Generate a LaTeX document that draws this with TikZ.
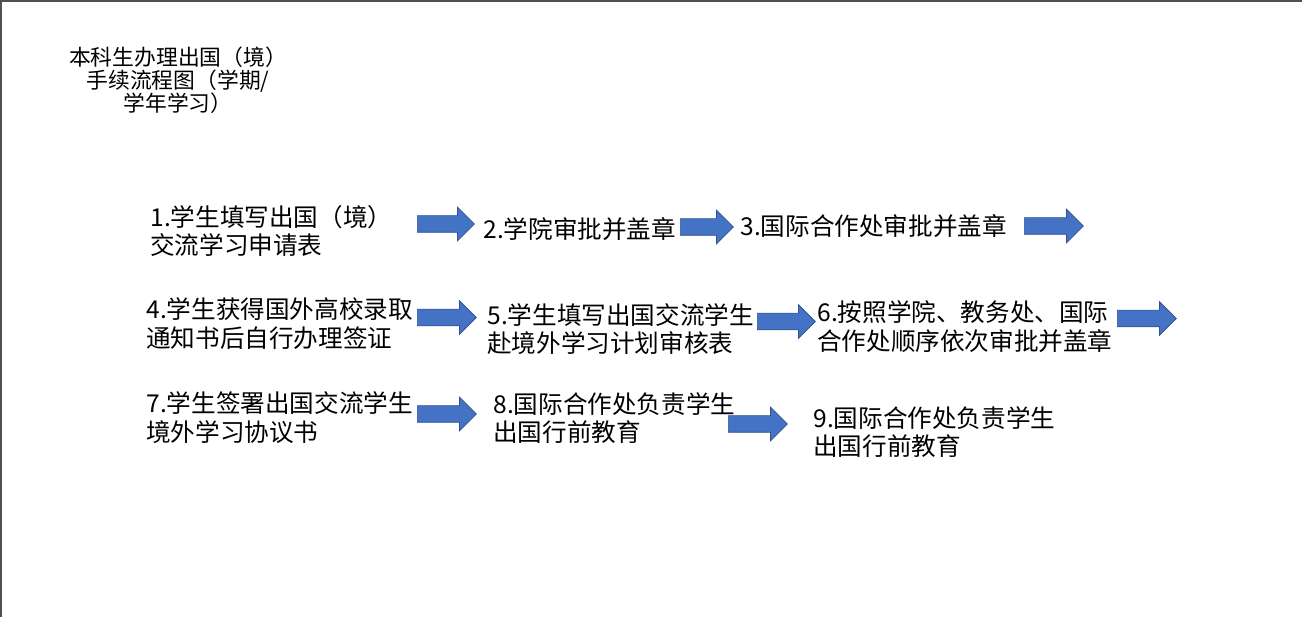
\documentclass[tikz,border=0pt]{standalone}
\usepackage{fontspec}
\setmainfont{Noto Sans CJK SC}
\usetikzlibrary{shapes.arrows}

\definecolor{arrowblue}{HTML}{4472C4}
\definecolor{arrowedge}{HTML}{2F528F}
\definecolor{framegray}{HTML}{505050}
\newcommand{\pxu}{0.02cm}

\begin{document}
\begin{tikzpicture}[x=0.02cm, y=-0.02cm,
  steptext/.style={anchor=west, align=left, inner sep=0pt, font=\fontsize{14}{16.4}\selectfont},
  blockarrow/.style={single arrow, draw=arrowedge, fill=arrowblue, line width=0.4pt, anchor=tail,
    inner xsep=0pt, inner ysep=8*\pxu, minimum width=33*\pxu,
    single arrow head extend=8.5*\pxu, minimum height=#1*\pxu}]

  \useasboundingbox (0,0) rectangle (1302,617);
  \draw[framegray, line width=2*\pxu] (1,617) -- (1,1) -- (1302,1);

  % title
  \node[align=center, inner sep=0pt, font=\fontsize{12.4}{13.1}\selectfont] (title) at (178,80)
    {本科生办理出国（境）\\手续流程图（学期/\\学年学习）};

  % steps
  \node[steptext] (1) at (150,231)   {1.学生填写出国（境）\\交流学习申请表};
  \node[steptext] (2) at (483,229)   {2.学院审批并盖章};
  \node[steptext] (3) at (740,226)   {3.国际合作处审批并盖章};
  \node[steptext] (4) at (146,323.5) {4.学生获得国外高校录取\\通知书后自行办理签证};
  \node[steptext] (5) at (487,329)   {5.学生填写出国交流学生\\赴境外学习计划审核表};
  \node[steptext] (6) at (817,327)   {6.按照学院、教务处、国际\\合作处顺序依次审批并盖章};
  \node[steptext] (7) at (146,417.5) {7.学生签署出国交流学生\\境外学习协议书};
  \node[steptext] (8) at (493,418)   {8.国际合作处负责学生\\出国行前教育};
  \node[steptext] (9) at (813,432)   {9.国际合作处负责学生\\出国行前教育};

  % arrows (placed at their tails)
  \node[blockarrow=57] (a1) at (417,224)   {};
  \node[blockarrow=53] (a2) at (680,227)   {};
  \node[blockarrow=59] (a3) at (1024,226)  {};
  \node[blockarrow=59] (a4) at (417,317.5) {};
  \node[blockarrow=58] (a5) at (757,321.5) {};
  \node[blockarrow=59] (a6) at (1117,318.5) {};
  \node[blockarrow=59] (a7) at (417,414)   {};
  \node[blockarrow=59] (a8) at (728,424)   {};

\end{tikzpicture}
\end{document}
